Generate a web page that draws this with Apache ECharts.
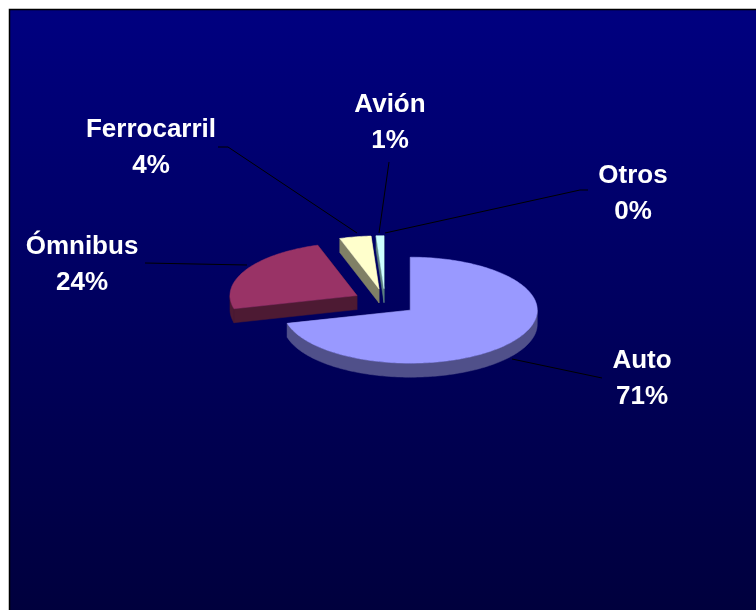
<!DOCTYPE html>
<html>
<head>
<meta charset="utf-8">
<script src="https://cdn.jsdelivr.net/npm/echarts@6/dist/echarts.min.js"></script>
<style>
html, body { margin: 0; padding: 0; background: #fff; }
#chart { width: 756px; height: 610px; }
</style>
</head>
<body>
<div id="chart"></div>
<script>
var names = ['Auto', 'Ómnibus', 'Ferrocarril', 'Avión', 'Otros'];
var values = [71, 24, 4, 1, 0];
var topColors = ['#9999FF', '#993366', '#FFFFCC', '#CCFFFF', '#660066'];
var sideColors = ['#50508A', '#4D1A33', '#808066', '#5C8080', '#330033'];

// label block centres and leader lines (px)
var labelPos = [[642, 379], [82, 265], [151, 148], [390, 123], [633, 194]];
var leaders = [
    [[602, 378], [512, 359]],
    [[145, 263], [247, 265]],
    [[218, 147], [228, 147], [357, 233]],
    [[389, 162], [379, 233]],
    [[588, 190], [580, 190], [385, 233]]
];

// pie geometry (tilted ellipse)
var cx = 385, cy = 302, rx = 127, ry = 53, depth = 14, explode = 32;

var total = 0;
values.forEach(function (v) { total += v; });

function arcPoints(ox, oy, a0, a1, dy) {
    var pts = [];
    var n = Math.max(2, Math.ceil((a1 - a0) / 0.02));
    for (var j = 0; j <= n; j++) {
        var a = a0 + (a1 - a0) * j / n;
        pts.push([ox + rx * Math.sin(a), oy - ry * Math.cos(a) + dy]);
    }
    return pts;
}

function renderSlice(params, api) {
    var i = params.dataIndex;
    var v = api.value(0);
    var before = 0;
    for (var k = 0; k < i; k++) before += values[k];
    var a0 = before / total * 2 * Math.PI;
    var a1 = (before + v) / total * 2 * Math.PI;
    var mid = (a0 + a1) / 2;
    var ox = cx + explode * Math.sin(mid);
    var oy = cy - explode * Math.cos(mid) * ry / rx;
    var children = [];
    var sideStyle = { fill: sideColors[i], stroke: sideColors[i], lineWidth: 0.5 };

    if (v > 0) {
        var c = [ox, oy], cb = [ox, oy + depth];
        var top = arcPoints(ox, oy, a0, a1, 0);
        var bot = arcPoints(ox, oy, a0, a1, depth);
        // radial faces
        children.push({ type: 'polygon', shape: { points: [c, top[0], bot[0], cb] }, style: sideStyle });
        children.push({ type: 'polygon', shape: { points: [c, top[top.length - 1], bot[bot.length - 1], cb] }, style: sideStyle });
        // front wall, only the part facing the viewer
        var lo = Math.max(a0, Math.PI / 2), hi = Math.min(a1, Math.PI * 1.5);
        if (lo < hi) {
            var wt = arcPoints(ox, oy, lo, hi, 0);
            var wb = arcPoints(ox, oy, lo, hi, depth).reverse();
            children.push({ type: 'polygon', shape: { points: wt.concat(wb) }, style: sideStyle });
        }
        children.push({
            type: 'polygon',
            shape: { points: [c].concat(top) },
            style: { fill: topColors[i], stroke: topColors[i], lineWidth: 0.5 }
        });
    }

    children.push({
        type: 'polyline',
        shape: { points: leaders[i] },
        style: { stroke: '#000', lineWidth: 1, fill: null }
    });
    children.push({
        type: 'text',
        x: labelPos[i][0],
        y: labelPos[i][1],
        style: {
            text: names[i] + '\n' + Math.round(v / total * 100) + '%',
            fill: '#fff',
            fontFamily: 'Liberation Sans, Arial, sans-serif',
            fontWeight: 'bold',
            fontSize: 26,
            lineHeight: 36,
            align: 'center',
            verticalAlign: 'middle'
        }
    });
    return { type: 'group', children: children };
}

var myChart = echarts.init(document.getElementById('chart'));
var option = {
    backgroundColor: '#fff',
    animation: false,
    graphic: [{
        type: 'rect',
        z: 0,
        silent: true,
        shape: { x: 9.5, y: 9.5, width: 760, height: 610 },
        style: {
            fill: new echarts.graphic.LinearGradient(0, 0, 0, 1, [
                { offset: 0, color: '#000080' },
                { offset: 1, color: '#00003C' }
            ]),
            stroke: '#000',
            lineWidth: 1.5
        }
    }],
    series: [{
        type: 'custom',
        coordinateSystem: 'none',
        z: 5,
        renderItem: renderSlice,
        data: values
    }]
};
myChart.setOption(option);
</script>
</body>
</html>
